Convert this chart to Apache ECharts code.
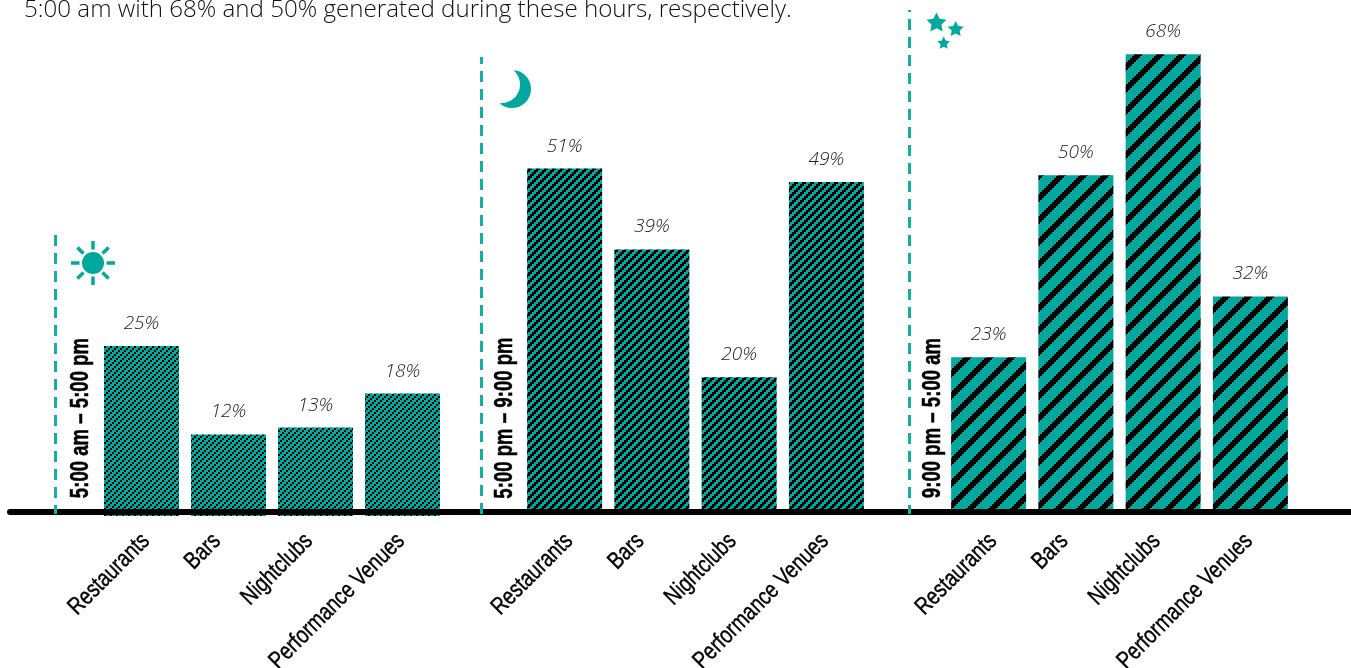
<!DOCTYPE html>
<html>
<head>
<meta charset="utf-8">
<script src="https://cdn.jsdelivr.net/npm/echarts@6/dist/echarts.min.js"></script>
<style>
  html, body { margin: 0; padding: 0; background: #fff; overflow: hidden; }
  #chart { width: 1351px; height: 668px; }
</style>
</head>
<body>
<div id="chart"></div>
<script>
const categories = ["Restaurants", "Bars", "Nightclubs", "Performance Venues"];
const dayValues = [25, 12, 13, 18];
const eveningValues = [51, 39, 20, 49];
const nightValues = [23, 50, 68, 32];
const shiftLabels = ["5:00 am – 5:00 pm", "5:00 pm – 9:00 pm", "9:00 pm – 5:00 am"];
const introText = "5:00 am with 68% and 50% generated during these hours, respectively.";

const TEAL = "#00a79d";
const SANS = '"Liberation Sans", sans-serif';
const LIGHT = '"Open Sans", sans-serif';

// Stepped diagonal hatch tile, black on teal
const hatch = (period, black, step) => {
  const tile = document.createElement("canvas");
  tile.width = period;
  tile.height = period;
  const ctx = tile.getContext("2d");
  ctx.fillStyle = TEAL;
  ctx.fillRect(0, 0, period, period);
  ctx.fillStyle = "#000";
  for (let y = 0; y < period; y++) {
    for (let x = 0; x < period; x++) {
      if ((x + Math.floor(y / step) * step) % period < black) ctx.fillRect(x, y, 1, 1);
    }
  }
  return {image: tile, repeat: "repeat"};
};

const starPoints = (cx, cy, r) => {
  const pts = [];
  for (let i = 0; i < 10; i++) {
    const rad = i % 2 ? r * 0.5 : r;
    const a = -Math.PI / 2 + (i * Math.PI) / 5;
    pts.push([cx + rad * Math.cos(a), cy + rad * Math.sin(a)]);
  }
  return pts;
};

// crescent: outer circle arc out, inner circle arc back
const moonPoints = () => {
  const pts = [];
  for (let i = 0; i <= 24; i++) {
    const t = ((-87 + (219 * i) / 24) * Math.PI) / 180;
    pts.push([512 + 19 * Math.cos(t), 89 + 19 * Math.sin(t)]);
  }
  for (let i = 0; i <= 24; i++) {
    const t = ((97.4 - (148.8 * i) / 24) * Math.PI) / 180;
    pts.push([501.4 + 18.6 * Math.cos(t), 84.55 + 18.6 * Math.sin(t)]);
  }
  return pts;
};

const dashed = (x, top, offset) => ({
  type: "line",
  shape: {x1: x, y1: top, x2: x, y2: 514},
  style: {stroke: "#14aea4", lineWidth: 3, lineDash: [11, 7], lineDashOffset: offset},
  z: 10,
});

// no narrow face is installed, so squeeze the regular one
const sideLabel = (x, text) => ({
  type: "text",
  x: x,
  y: 418,
  rotation: Math.PI / 2,
  scaleX: 0.93,
  scaleY: 1.25,
  style: {
    text,
    fill: "#000",
    stroke: "#000",
    lineWidth: 0.4,
    font: `bold 20px ${SANS}`,
    align: "center",
    verticalAlign: "middle",
  },
  z: 10,
});

const sunRays = [];
for (let i = 0; i < 8; i++) {
  const a = (i * Math.PI) / 4;
  sunRays.push({
    type: "line",
    shape: {
      x1: 93 + 13.5 * Math.cos(a),
      y1: 263 + 13.5 * Math.sin(a),
      x2: 93 + 22 * Math.cos(a),
      y2: 263 + 22 * Math.sin(a),
    },
    style: {stroke: TEAL, lineWidth: 3.5},
    z: 10,
  });
}

const groupLefts = [98, 521, 945];
const groupWidths = [348, 349, 349];
const groupValues = [dayValues, eveningValues, nightValues];
const groupHatch = [hatch(6, 2, 2), hatch(8, 4, 2), hatch(22, 8, 2)];
// first group's bars run a little past the base line
const groupTops = [6, 7, 7];
const groupHeights = [510, 505, 505];
const labelNudge = [9, -7, -2, 3];

const grids = groupLefts.map((left, i) => ({
  left,
  width: groupWidths[i],
  top: groupTops[i],
  height: groupHeights[i],
}));
// full width grid only carries the thick base line
grids.push({left: 10, right: 0, top: 0, height: 512});

const xAxes = groupLefts.map((_, i) => ({
  type: "category",
  gridIndex: i,
  data: categories,
  axisLine: {show: false},
  axisTick: {show: false},
  axisLabel: {show: false},
}));
xAxes.push({
  type: "value",
  gridIndex: 3,
  z: 5,
  axisLine: {show: true, onZero: false, lineStyle: {color: "#000", width: 6}},
  axisTick: {show: false},
  axisLabel: {show: false},
  splitLine: {show: false},
});

const yAxes = groupLefts.map((_, i) => ({
  type: "value",
  gridIndex: i,
  min: 0,
  max: 75,
  show: false,
}));
yAxes.push({type: "value", gridIndex: 3, show: false});

const series = groupValues.map((values, i) => ({
  type: "bar",
  xAxisIndex: i,
  yAxisIndex: i,
  data: values,
  barWidth: 75,
  itemStyle: {color: groupHatch[i]},
  label: {
    show: true,
    position: "top",
    distance: 13,
    formatter: "{c}%",
    color: "#222",
    fontFamily: LIGHT,
    fontStyle: "italic",
    fontWeight: 300,
    fontSize: 19,
  },
}));

const chart = echarts.init(document.getElementById("chart"), null, {renderer: "canvas"});
chart.setOption({
  animation: false,
  backgroundColor: "#fff",
  grid: grids,
  xAxis: xAxes,
  yAxis: yAxes,
  series,
});

// category labels placed from the axis scale, squeezed to the narrow look
const categoryLabels = [];
groupLefts.forEach((_, i) => {
  categories.forEach((name, k) => {
    const x = chart.convertToPixel({xAxisIndex: i}, name);
    categoryLabels.push({
      type: "text",
      x: x - 13 + labelNudge[k],
      y: 529,
      rotation: Math.PI / 4,
      scaleX: 0.805,
      style: {
        text: name,
        fill: "#000",
        stroke: "#000",
        lineWidth: 0.4,
        font: `24px ${SANS}`,
        align: "right",
        verticalAlign: "top",
      },
      z: 10,
    });
  });
});

chart.setOption({
  graphic: [
    {
      type: "text",
      x: 24,
      y: 10,
      style: {
        text: introText,
        fill: "#111",
        font: `300 24.15px ${LIGHT}`,
        verticalAlign: "middle",
      },
    },
    dashed(55.5, 235, 0),
    dashed(481.5, 57, 4),
    dashed(909.5, 10, 9),
    sideLabel(81, shiftLabels[0]),
    sideLabel(505, shiftLabels[1]),
    sideLabel(933, shiftLabels[2]),
    ...categoryLabels,
    {type: "circle", shape: {cx: 93, cy: 263, r: 11}, style: {fill: TEAL}, z: 10},
    ...sunRays,
    {type: "polygon", shape: {points: moonPoints()}, style: {fill: TEAL}, z: 10},
    {type: "polygon", shape: {points: starPoints(936.5, 23, 10.5)}, style: {fill: TEAL}, z: 10},
    {type: "polygon", shape: {points: starPoints(955.7, 29.3, 8.4)}, style: {fill: TEAL}, z: 10},
    {type: "polygon", shape: {points: starPoints(943.7, 43.3, 6.7)}, style: {fill: TEAL}, z: 10},
  ],
});
</script>
</body>
</html>
